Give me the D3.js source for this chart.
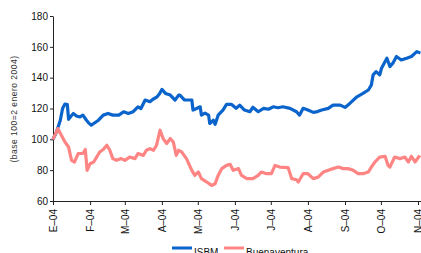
<!DOCTYPE html>
<html>
<head>
<meta charset="utf-8">
<script src="https://cdn.jsdelivr.net/npm/d3@7"></script>
<style>
  body { margin: 0; background: #fff; }
  svg { display: block; font-family: "Liberation Sans", Arial, sans-serif; }
  .axis path, .axis line { stroke: #222; }
  .axis text { font-size: 10px; fill: #111; }
</style>
</head>
<body>
<div id="chart"></div>
<script>
// days since 1 Jan 2004, and index values (base 100 = 2 Jan 2004)
var isbmDays = [0, 2.5, 6, 8, 10, 12, 13, 15, 17, 20, 22.5, 25, 28, 30, 32, 34, 38, 42, 46, 50,
  55, 59, 63, 67, 71, 73.5, 77, 81, 83.5, 87, 89, 91, 94, 98, 102, 105, 106, 110, 116, 117,
  120, 123, 124, 127, 130, 131, 134, 135.5, 138, 142, 145, 149, 153, 156, 160, 164.5, 167, 171.5, 176, 180,
  184, 188, 192, 198, 203.5, 206, 209, 213, 217.5, 221, 224.5, 230, 234, 240, 244, 248, 254, 259, 263.5, 266,
  267.5, 270, 273, 274.5, 279, 281.5, 284, 287, 291, 295.5, 299.5, 304, 307];
var isbmValues = [100, 104, 112, 120, 122.9, 122.5, 113, 115, 116.8, 115, 114.6, 115.7, 112.4, 110.5, 109.2, 110.3, 112.4, 115.7, 116.8, 115.7,
  115.7, 117.9, 116.8, 117.9, 121.1, 120, 125.5, 124.4, 126, 127.6, 129.5, 132.4, 129.8, 128.7, 125.5, 128.7, 128.7, 125.5, 125.5, 119,
  120, 121.1, 115.7, 117, 115.7, 110.3, 112.4, 109.8, 115.7, 119, 122.7, 122.7, 120.1, 122.2, 119, 117.9, 120.8, 117.9, 120.1, 119.5,
  121.1, 120.5, 121.1, 120.1, 117.9, 115.7, 120.1, 119, 117.5, 118, 119, 120.1, 122.2, 122.2, 120.7, 123.3, 127.6, 129.8, 132, 135.2,
  141.8, 143.9, 141.8, 146.1, 152.6, 147.2, 149.4, 153.7, 151.5, 152.6, 153.7, 156.9, 155.9];

var buenDays = [0, 4, 7, 10, 13, 15.5, 18, 21, 25, 27, 28.5, 31, 34, 36.5, 39, 42, 45, 47.5, 50, 53,
  57, 60, 64, 68.5, 71, 75.5, 78, 81, 84, 86.5, 89.5, 92, 95, 98, 100.5, 103, 105, 107.5, 111.5, 116,
  118.5, 121.5, 124, 128.5, 132.5, 135.5, 138, 141, 145, 148, 150.5, 155, 157.5, 162, 167, 171.5, 174, 178.5, 182.5, 185.5,
  189.5, 196.5, 199.5, 203.5, 205, 209, 213, 217.5, 221.5, 226, 230, 234, 238.5, 242.5, 246.5, 251, 255, 259, 263.5, 266,
  269, 273, 277.5, 280, 281.5, 285.5, 290, 294, 297, 299.5, 302.5, 306.5];
var buenValues = [100, 107, 102.7, 98.3, 95, 86.4, 85.3, 90.8, 90.8, 93.4, 79.9, 84.2, 85.3, 88.5, 91.8, 93.4, 96.2, 92.9, 87.5, 86.4,
  87.5, 86.4, 88.5, 87.5, 90.8, 89.6, 92.9, 94, 92.9, 96.2, 105.9, 100.5, 97.3, 100.5, 98.3, 89.6, 92.9, 91.8, 87.5, 79.9,
  76.6, 78.8, 74.5, 72.3, 70.1, 71.2, 76.6, 81, 83.1, 83.8, 79.9, 81, 76.6, 74.5, 74.5, 76.6, 78.8, 77.7, 77.7, 83.1,
  82, 81.6, 74.5, 73.8, 72.3, 77.7, 77.7, 74.5, 75.5, 78.8, 79.9, 81, 82, 81, 81, 79.9, 77.7, 77.7, 78.8, 82,
  85.3, 88.5, 89, 83.1, 82, 88.5, 87.5, 88.5, 85.3, 89, 85.3, 89.6];

var monthLabels = ["E\u201304", "F\u201304", "M\u201304", "A\u201304", "M\u201304", "J\u201304",
  "J\u201304", "A\u201304", "S\u201304", "O\u201304", "N\u201304"];
var yTicks = [60, 80, 100, 120, 140, 160, 180];
var seriesNames = ["ISBM", "Buenaventura"];
var seriesColors = ["#0a64cc", "#ff8585"];

var margin = { top: 16, right: 0, bottom: 52, left: 53 },
  width = 421 - margin.left - margin.right,
  height = 253 - margin.top - margin.bottom;

var start = new Date(2004, 0, 1);
function dayToDate(d) { return new Date(start.getTime() + d * 864e5); }

var x = d3.scaleTime()
  .domain([start, dayToDate(307.5)])
  .range([0, width]);
var y = d3.scaleLinear()
  .domain([60, 180])
  .range([height, 0]);

var svg = d3.select("#chart").append("svg")
  .attr("width", 421)
  .attr("height", 253);

var g = svg.append("g")
  .attr("transform", "translate(" + margin.left + "," + margin.top + ")");

var line = d3.line()
  .x(function(d) { return x(d.date); })
  .y(function(d) { return y(d.value); });

function makeSeries(days, values) {
  return days.map(function(d, i) { return { date: dayToDate(d), value: values[i] }; });
}
var series = [makeSeries(isbmDays, isbmValues), makeSeries(buenDays, buenValues)];

// axes
var monthTicks = d3.timeMonth.range(start, dayToDate(310));

var xAxis = g.append("g")
  .attr("class", "axis")
  .attr("transform", "translate(0," + height + ")")
  .call(d3.axisBottom(x).tickValues(monthTicks).tickSize(4).tickSizeOuter(0)
    .tickFormat(function(d, i) { return monthLabels[i]; }));
xAxis.selectAll("text")
  .attr("transform", "rotate(-90)")
  .attr("text-anchor", "end")
  .attr("x", -8)
  .attr("y", 0)
  .attr("dy", "0.35em");

g.append("g")
  .attr("class", "axis")
  .call(d3.axisLeft(y).tickValues(yTicks).tickSize(3).tickSizeOuter(0).tickPadding(2));

g.selectAll(".series")
  .data(series)
  .enter()
  .append("path")
  .attr("class", "series")
  .attr("fill", "none")
  .attr("stroke", function(d, i) { return seriesColors[i]; })
  .attr("stroke-width", 3.2)
  .attr("stroke-linejoin", "round")
  .attr("d", line);

svg.append("text")
  .text("(base 100=2 enero 2004)")
  .attr("font-size", "8.5px")
  .attr("letter-spacing", "0.5px")
  .attr("fill", "#333")
  .attr("text-anchor", "middle")
  .attr("transform", "translate(17,109) rotate(-90)");

// legend
var legend = svg.append("g")
  .attr("transform", "translate(172,248)");
var items = legend.selectAll("g")
  .data(seriesNames)
  .enter()
  .append("g")
  .attr("transform", function(d, i) { return "translate(" + (i * 52) + ",0)"; });
items.append("rect")
  .attr("width", 20)
  .attr("height", 3)
  .attr("y", -1.5)
  .attr("fill", function(d, i) { return seriesColors[i]; });
items.append("text")
  .text(function(d) { return d; })
  .attr("x", 22)
  .attr("y", 7.5)
  .attr("font-size", "10px")
  .attr("fill", "#111");
</script>
</body>
</html>
